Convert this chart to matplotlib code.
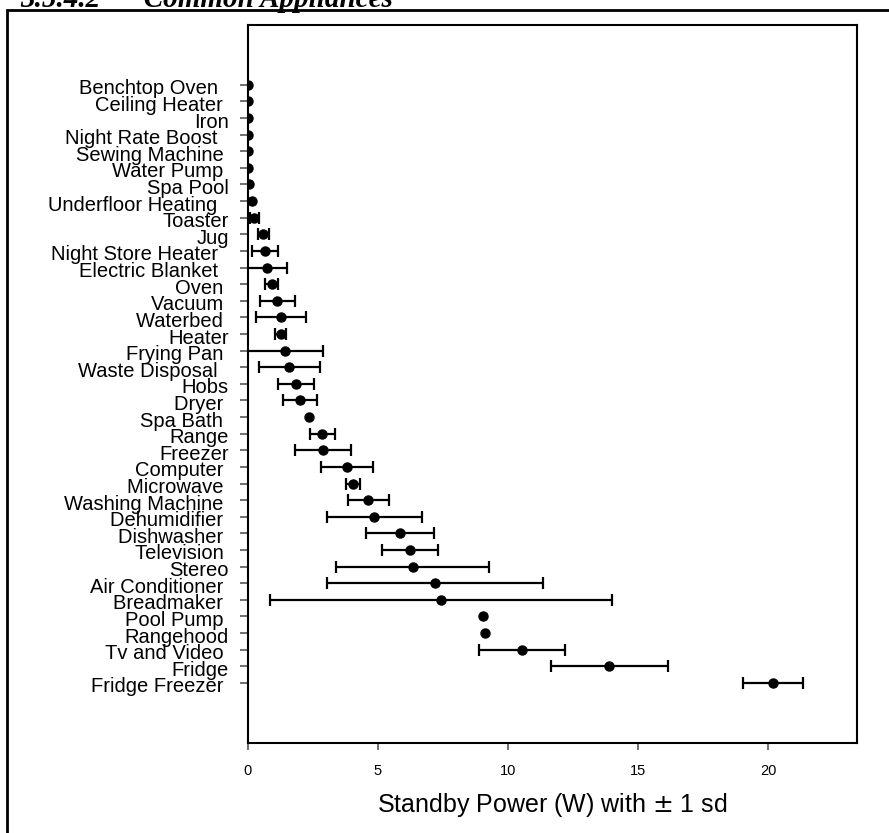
import matplotlib
matplotlib.use("Agg")
import matplotlib.pyplot as plt
import matplotlib.patches as patches
import matplotlib.transforms as mtransforms
import numpy as np

plt.rcParams['font.family'] = ['Liberation Sans', 'DejaVu Sans']

# appareils, du haut vers le bas (les espaces finaux viennent des libellés d'origine)
appareils = ["Benchtop Oven  ", "Ceiling Heater ", "Iron", "Night Rate Boost  ",
             "Sewing Machine ", "Water Pump ", "Spa Pool", "Underfloor Heating  ",
             "Toaster", "Jug", "Night Store Heater  ", "Electric Blanket  ",
             "Oven ", "Vacuum ", "Waterbed ", "Heater", "Frying Pan ",
             "Waste Disposal  ", "Hobs", "Dryer ", "Spa Bath ", "Range", "Freezer",
             "Computer ", "Microwave ", "Washing Machine ", "Dehumidifier ",
             "Dishwasher ", "Television ", "Stereo", "Air Conditioner ",
             "Breadmaker ", "Pool Pump ", "Rangehood", "Tv and Video ", "Fridge",
             "Fridge Freezer "]
# puissance de veille moyenne (W)
moyenne = [0.01, 0.01, 0.01, 0.01, 0.01, 0.02, 0.05, 0.16, 0.26, 0.60, 0.66, 0.74,
           0.92, 1.14, 1.28, 1.27, 1.45, 1.60, 1.84, 2.02, 2.37, 2.87, 2.89, 3.81,
           4.05, 4.64, 4.87, 5.86, 6.24, 6.33, 7.18, 7.42, 9.02, 9.10, 10.55, 13.88,
           20.16]
# écart-type (0 = pas de barre)
ecart = [0, 0, 0, 0, 0, 0, 0, 0, 0.18, 0.20, 0.51, 0.76, 0.26, 0.66, 0.97, 0.22,
         1.46, 1.16, 0.69, 0.66, 0, 0.47, 1.08, 1.00, 0.28, 0.78, 1.81, 1.30, 1.08,
         2.93, 4.15, 6.56, 0, 0, 1.65, 2.25, 1.15]
graduations_x = [0, 5, 10, 15, 20]
titre = "3.5.4.2      Common Appliances"
etiquette_x = "Standby Power (W) with $\\pm$ 1 sd"

y = np.arange(len(appareils))
moy = np.array(moyenne)
sd = np.array(ecart)
avec_barre = sd > 0

fig = plt.figure(figsize=(8.89, 8.33), dpi=100)
ax = fig.add_axes([0.2786, 0.1084, 0.6854, 0.8616])

# barres d'erreur seulement quand il y a un écart-type
ax.errorbar(moy[avec_barre], y[avec_barre], xerr=sd[avec_barre], fmt='none',
            ecolor='black', elinewidth=1.6, capsize=4.3, capthick=1.6)
ax.plot(moy, y, 'o', color='black', markersize=6.5, zorder=3)

ax.set_xlim(0, 23.4)
ax.set_ylim(39.6, -3.6)
ax.set_yticks(y)
ax.set_yticklabels(appareils, fontsize=14.5)
ax.set_xticks(graduations_x)
ax.set_xticklabels([str(v) for v in graduations_x], fontsize=10.5)
ax.tick_params(axis='y', direction='out', length=6, width=1.2, color='0.35', pad=7.5)
ax.tick_params(axis='x', direction='out', length=5, width=1.2, color='0.35', pad=10)
ax.set_xlabel(etiquette_x, fontsize=18, labelpad=10)
for s in ax.spines.values():
    s.set_linewidth(1.5)

# libellés un peu plus bas que la graduation
decalage = mtransforms.ScaledTranslation(0, -0.02, fig.dpi_scale_trans)
for lab in ax.get_yticklabels():
    lab.set_transform(lab.get_transform() + decalage)

# cadre extérieur et titre de section
fig.patches.append(patches.Rectangle((7 / 889, -0.2), 1.2, 1.2 - 10 / 833,
                                     transform=fig.transFigure, fill=False,
                                     edgecolor='black', linewidth=2))
fig.text(20 / 889, 1 - 6.7 / 833, titre, fontsize=21, fontweight='bold',
         fontstyle='italic', family=['Liberation Serif', 'DejaVu Serif'],
         va='baseline', ha='left')

fig.savefig("out.png", dpi=100)
